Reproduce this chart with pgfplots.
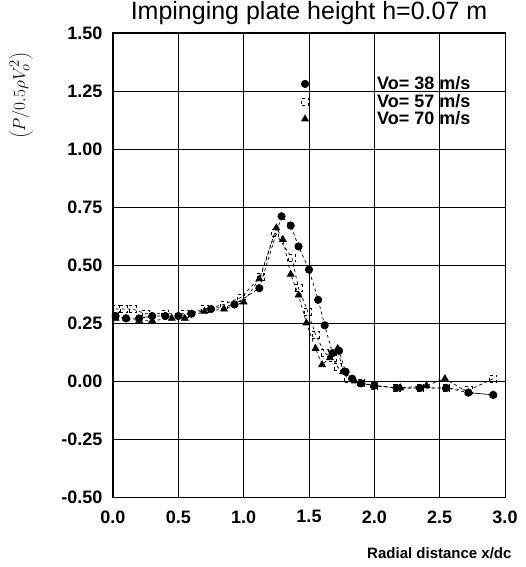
\documentclass[border=0pt]{standalone}
\usepackage{fontspec}
\setmainfont{Liberation Sans}
\usepackage{pgfplots}
\pgfplotsset{compat=1.18}

\begin{document}
\begin{tikzpicture}
\begin{axis}[scale only axis,width=392pt,height=464pt,
 xmin=0,xmax=3,ymin=-0.5,ymax=1.5,
 xtick={0,0.5,...,3},ytick={-0.5,-0.25,...,1.5},
 grid=major,major grid style={black,line width=0.8pt},
 axis line style={black,line width=1pt},tick style={draw=none},
 /pgf/number format/assume math mode=true,
 ticklabel style={font=\bfseries\fontsize{18}{18}\selectfont},
 xticklabel style={/pgf/number format/.cd,fixed,fixed zerofill,precision=1,/tikz/.cd,yshift=-10pt},
 yticklabel style={/pgf/number format/.cd,fixed,fixed zerofill,precision=2,/tikz/.cd,xshift=-7pt},
 title={Impinging plate height h=0.07 m},
 title style={font=\fontsize{25}{25}\selectfont,at={(rel axis cs:0.5,1)},anchor=south,yshift=-1pt},
 xlabel={Radial distance x/dc},
 xlabel style={font=\bfseries\fontsize{15}{15}\selectfont,at={(rel axis cs:1,0)},anchor=north east,yshift=-47pt,xshift=10pt},
 ylabel={$\left(P/0.5\rho V_o^2\right)$},
 ylabel style={font=\fontsize{19}{19}\selectfont,at={(rel axis cs:-0.235,0.865)},anchor=center},
 legend style={at={(axis cs:1.41,1.33)},anchor=north west,draw=none,fill=none,
   font=\bfseries\fontsize{18}{18}\selectfont,row sep=-1pt,cells={anchor=west}},
 legend image code/.code={\draw[#1,only marks] plot coordinates {(0.15cm,0cm)};\path (0cm,0cm) (2.6cm,0cm);},
 every axis plot/.append style={black,dashed,line width=0.7pt,mark options={solid}},
]
\addplot[mark=*,mark size=3.7pt] coordinates {
(0.02,0.28)(0.1,0.27)(0.2,0.27)(0.3,0.28)(0.4,0.28)(0.5,0.28)(0.6,0.29)(0.75,0.31)
(0.93,0.33)(1.12,0.40)(1.29,0.71)(1.36,0.67)(1.42,0.58)(1.5,0.48)(1.57,0.35)(1.62,0.24)
(1.68,0.12)(1.73,0.13)(1.78,0.04)(1.83,0.01)(1.9,-0.01)(2.0,-0.02)(2.17,-0.03)(2.35,-0.03)
(2.55,-0.03)(2.72,-0.05)(2.91,-0.06)};
\addlegendentry{Vo= 38 m/s}
\addplot[mark=square,mark size=3.5pt,mark options={fill=white}] coordinates {
(0.02,0.31)(0.08,0.31)(0.15,0.31)(0.25,0.29)(0.4,0.29)(0.55,0.29)(0.7,0.31)(0.85,0.33)
(0.98,0.36)(1.13,0.45)(1.24,0.64)(1.37,0.53)(1.42,0.40)(1.49,0.30)(1.55,0.20)(1.62,0.12)
(1.68,0.10)(1.72,0.06)(1.8,0.01)(1.9,-0.01)(2.0,-0.02)(2.17,-0.03)(2.35,-0.03)(2.55,-0.03)
(2.72,-0.04)(2.91,0.01)};
\addlegendentry{Vo= 57 m/s}
\addplot[mark=triangle*,mark size=3.9pt] coordinates {
(0.02,0.27)(0.1,0.27)(0.2,0.26)(0.3,0.26)(0.45,0.27)(0.55,0.27)(0.7,0.30)(0.85,0.31)
(1.0,0.34)(1.12,0.44)(1.25,0.66)(1.3,0.61)(1.36,0.46)(1.42,0.37)(1.48,0.25)(1.55,0.14)
(1.6,0.07)(1.66,0.10)(1.72,0.14)(1.76,0.04)(1.85,0.0)(2.0,-0.02)(2.2,-0.03)(2.4,-0.02)
(2.54,0.01)(2.72,-0.05)(2.91,-0.06)};
\addlegendentry{Vo= 70 m/s}
\coordinate (bl) at (rel axis cs:0,0);
\coordinate (tr) at (rel axis cs:1,1);
\end{axis}
\pgfresetboundingbox
\path ([xshift=-113pt,yshift=-70pt]bl) rectangle ([xshift=20pt,yshift=33pt]tr);
\end{tikzpicture}
\end{document}
